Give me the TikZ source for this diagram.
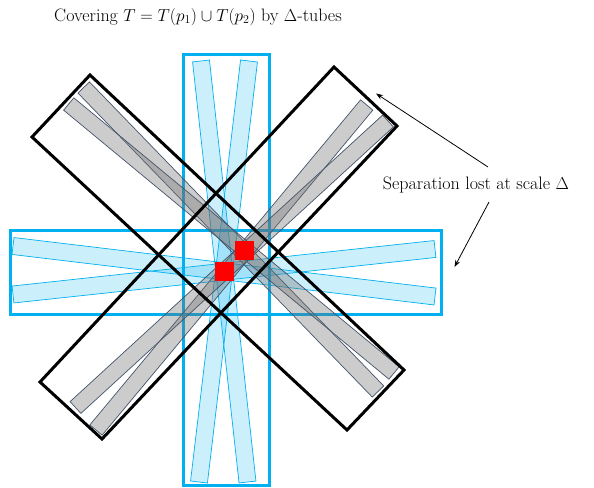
\documentclass[tikz,border=0pt]{standalone}
\usetikzlibrary{calc,arrows.meta}
\definecolor{cyanline}{RGB}{0,176,240}
\definecolor{tubeblue}{RGB}{0,176,240}
\definecolor{tubeedge}{RGB}{68,84,106}
\definecolor{tubegray}{RGB}{110,110,110}
\tikzset{
  bluetube/.style={draw=cyanline, line width=0.7pt, fill=tubeblue, fill opacity=0.2},
  graytube/.style={draw=tubeedge, line width=0.7pt, fill=tubegray, fill opacity=0.35},
  bluebox/.style={draw=cyanline, line width=3pt},
  blackbox/.style={draw=black, line width=3pt, line join=miter},
  redsq/.style={fill=red, draw=none},
  callout/.style={-{Stealth[length=7pt,width=5pt]}, line width=0.8pt},
  lbl/.style={font=\fontsize{18}{21}\selectfont, inner sep=0pt}
}
\newcommand\mytube[4]{%
  \path[#1] ($#2!#4!90:#3$) -- ($#3!#4!-90:#2$) -- ($#3!#4!90:#2$) -- ($#2!#4!-90:#3$) -- cycle;}
\begin{document}
\begin{tikzpicture}[x=1pt,y=-1pt]
\useasboundingbox (0,0) rectangle (594,487);
% blue tubes (vertical)
\mytube{bluetube}{(201,61)}{(247.5,482)}{8.5pt}
\mytube{bluetube}{(249,61)}{(199,482)}{8.5pt}
% blue tubes (horizontal)
\mytube{bluetube}{(13,246)}{(435,296.5)}{8.5pt}
\mytube{bluetube}{(13,294.5)}{(435,249)}{8.5pt}
% blue boxes
\draw[bluebox] (183.3,55) rectangle (269,485);
\draw[bluebox] (10.5,230) rectangle (441,314);
% gray tubes
\mytube{graytube}{(83.7,87.5)}{(378,391.5)}{8pt}
\mytube{graytube}{(68.7,104)}{(394,373)}{8pt}
\mytube{graytube}{(366.7,105)}{(96,430)}{8pt}
\mytube{graytube}{(388,121)}{(75.5,407.5)}{8pt}
% black boxes
\draw[blackbox] (90,75) -- (404,370) -- (347,430) -- (32,137) -- cycle;
\draw[blackbox] (334,67) -- (397,126) -- (102,439) -- (40,382) -- cycle;
% red squares
\fill[redsq] (235,241) rectangle (254,260);
\fill[redsq] (215,262) rectangle (234,281);
% texts
\node[lbl] (title) at (198,17) {Covering $T=T(p_1)\cup T(p_2)$ by $\Delta$-tubes};
\node[lbl] (sep) at (476,185) {Separation lost at scale $\Delta$};
\coordinate (a1s) at (488,167);
\coordinate (a1e) at (376,93.5);
\coordinate (a2s) at (489,202);
\coordinate (a2e) at (454.5,267);
\draw[callout] (a1s) -- (a1e);
\draw[callout] (a2s) -- (a2e);
\end{tikzpicture}
\end{document}
